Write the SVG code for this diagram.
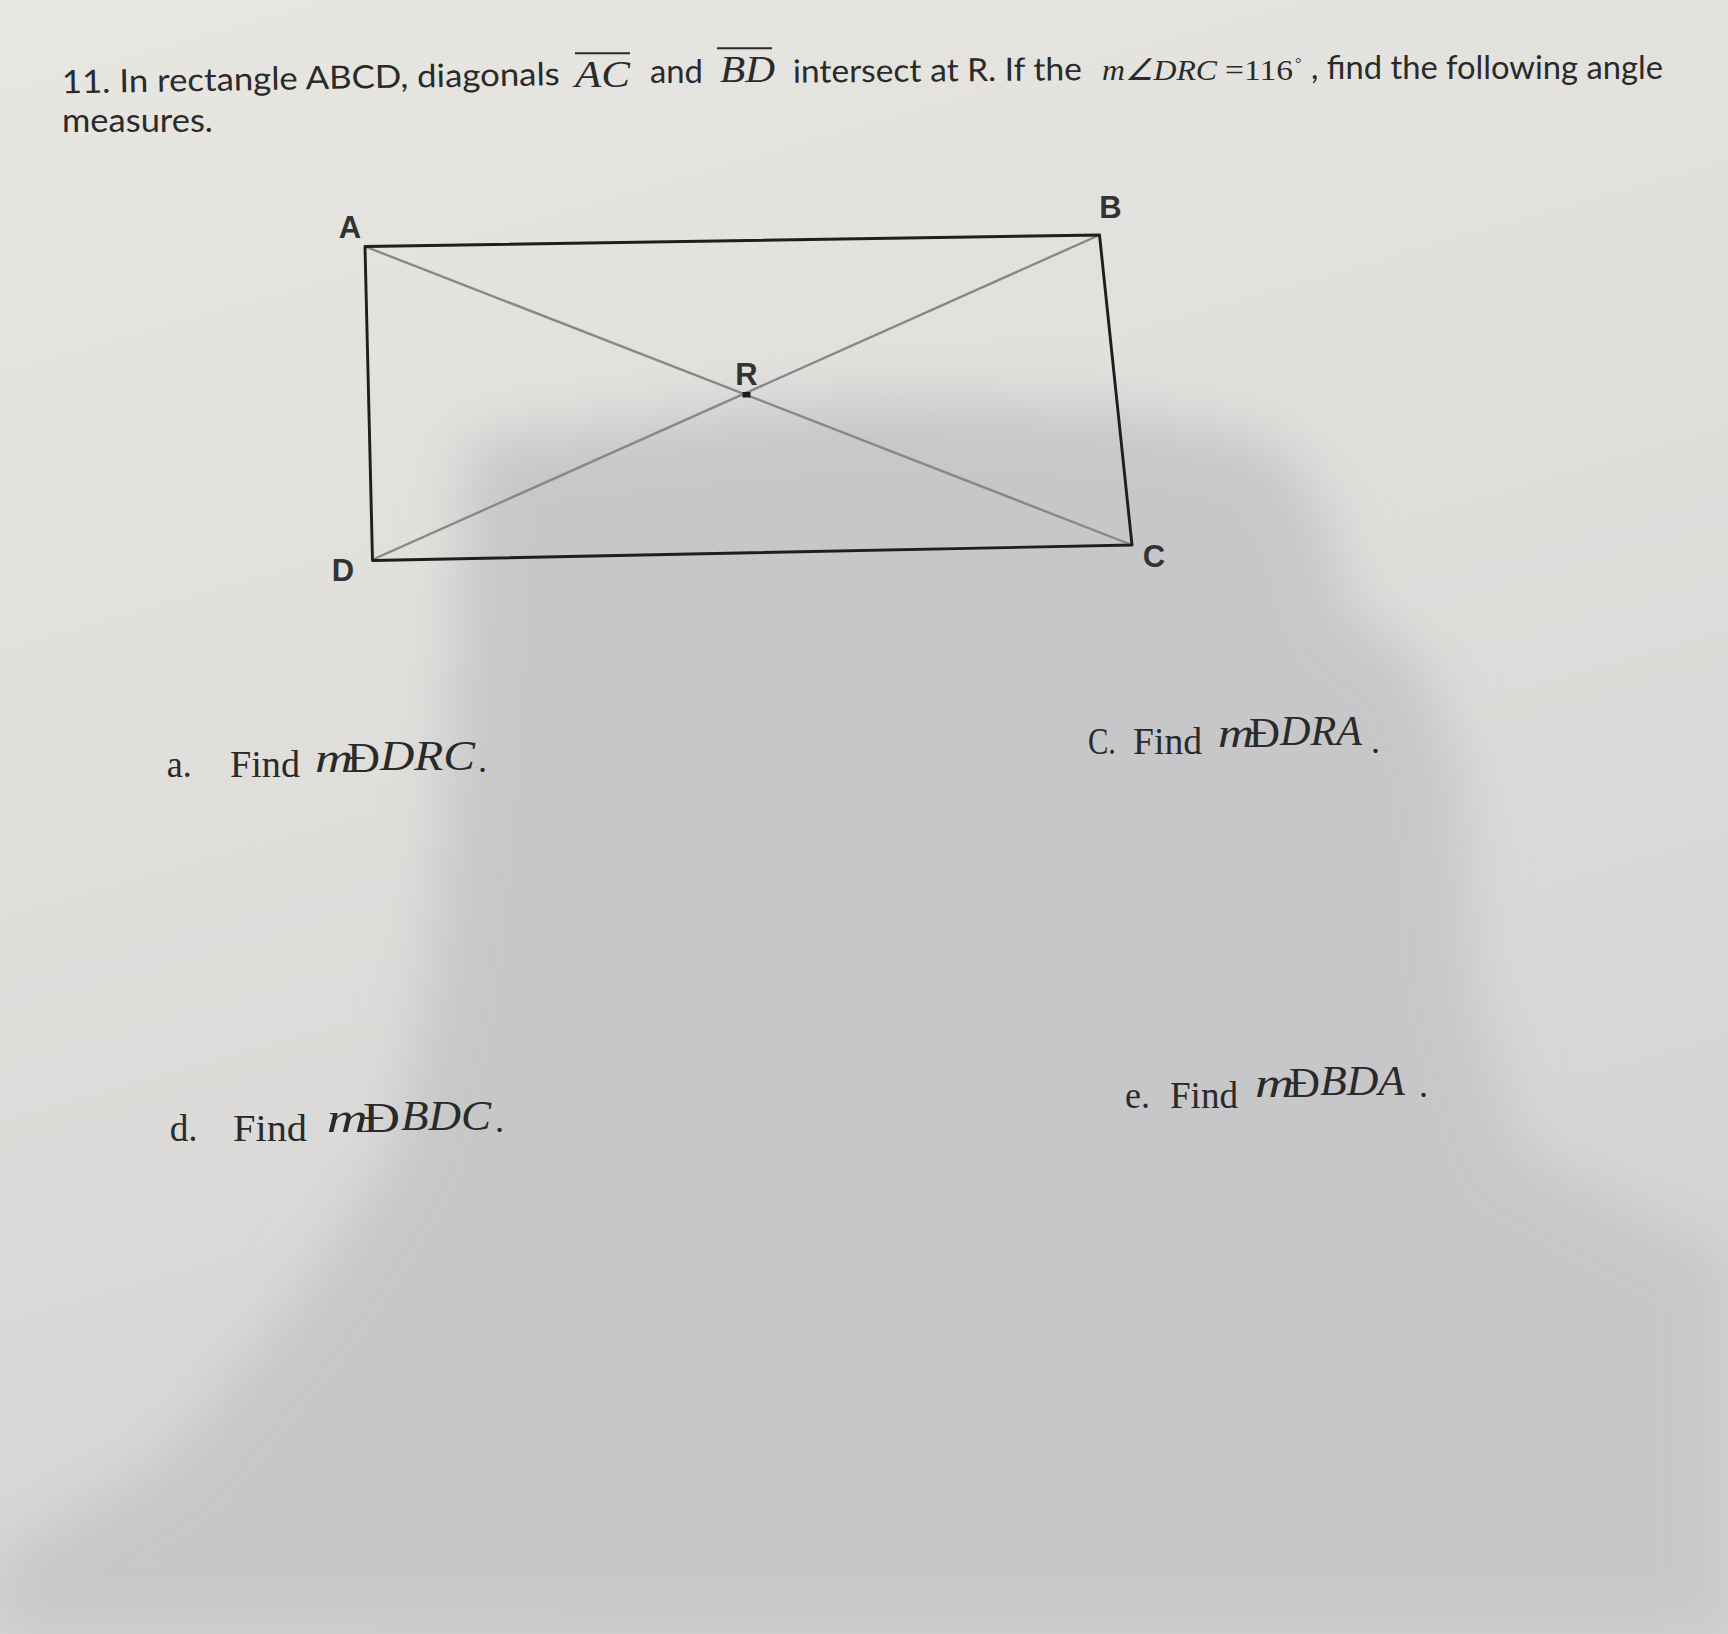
<svg xmlns="http://www.w3.org/2000/svg" width="1728" height="1634" viewBox="0 0 1728 1634">
<style>
.q{font-family:Lato,"Liberation Sans",sans-serif;font-size:32px;fill:#2a2a2a}
.mi{font-family:"Liberation Serif",serif;font-style:italic;fill:#2a2a2a}
.mu{font-family:"Liberation Serif",serif;fill:#2a2a2a}
.it{font-family:"Liberation Serif",serif;font-size:37px;fill:#2a2a2a}
.lbl{font-family:"Liberation Sans",Arial,sans-serif;font-weight:bold;font-size:31px;fill:#333;text-anchor:middle}
.side{stroke:#1e1e1e;stroke-width:2.9;fill:none;stroke-linejoin:round}
.diag{stroke:#888;stroke-width:2.4;fill:none}
.ovl{stroke:#2a2a2a;stroke-width:2}
</style>
<defs>
<linearGradient id="paper" x1="0" y1="0" x2="0.3" y2="1">
<stop offset="0" stop-color="#e8e6e1"/>
<stop offset="0.5" stop-color="#dfdedb"/>
<stop offset="1" stop-color="#d3d3d3"/>
</linearGradient>
<filter id="blur" x="-20%" y="-20%" width="140%" height="140%">
<feGaussianBlur stdDeviation="28"/>
</filter>
</defs>
<rect x="0" y="0" width="1728" height="1634" fill="url(#paper)"/>
<path d="M470,440 L660,418 L880,398 L1100,408 L1268,438 L1322,500 L1350,610 L1420,660 L1462,770 L1475,990 L1520,1150 L1728,1260 L1728,1634 L0,1634 L0,1560 L165,1460 L305,1290 L395,1150 L428,990 L448,780 L458,600 Z" fill="#c7c7c9" filter="url(#blur)"/>

<g id="question">
<text class="q" x="62" y="93.3" textLength="498" lengthAdjust="spacingAndGlyphs" transform="rotate(-0.95 62 93.3)">11. In rectangle ABCD, diagonals</text>
<text class="mi" x="575" y="86.7" font-size="38" textLength="55" lengthAdjust="spacingAndGlyphs">AC</text>
<line class="ovl" x1="575" y1="53.3" x2="630" y2="53.3"/>
<text class="q" x="650" y="83.3" textLength="53" lengthAdjust="spacingAndGlyphs">and</text>
<text class="mi" x="720" y="81.7" font-size="38" textLength="55" lengthAdjust="spacingAndGlyphs">BD</text>
<line class="ovl" x1="717" y1="48.3" x2="772" y2="48.3"/>
<text class="q" x="793" y="82.7" textLength="289" lengthAdjust="spacingAndGlyphs" transform="rotate(-0.5 793 82.7)">intersect at R.  If the</text>
<text class="mi" x="1102" y="80" font-size="30" textLength="115" lengthAdjust="spacingAndGlyphs">m∠DRC</text>
<text class="mu" x="1225" y="80" font-size="30" textLength="68" lengthAdjust="spacingAndGlyphs">=116</text>
<text class="mu" x="1295" y="69" font-size="16">°</text>
<text class="q" x="1311" y="79.3" textLength="352" lengthAdjust="spacingAndGlyphs">, find the following angle</text>
<text class="q" x="62" y="131.7" textLength="151" lengthAdjust="spacingAndGlyphs">measures.</text>
</g>

<g id="connectors">
<line class="diag" x1="365" y1="246.5" x2="1132" y2="545"/>
<line class="diag" x1="1099.5" y1="235" x2="374" y2="559"/>
<polygon class="side" points="365,246.5 1099.5,235 1132,545 372.5,560.5"/>
</g>

<g id="node-A"><text class="lbl" x="350" y="238">A</text></g>
<g id="node-B"><text class="lbl" x="1110.5" y="218">B</text></g>
<g id="node-C"><text class="lbl" x="1154" y="567">C</text></g>
<g id="node-D"><text class="lbl" x="343" y="581">D</text></g>
<g id="node-R"><text class="lbl" x="746.5" y="385">R</text><rect x="742.5" y="392" width="8" height="5.5" fill="#1e1e1e"/></g>

<g id="item-a">
<text class="it" x="166.7" y="777" textLength="25" lengthAdjust="spacingAndGlyphs">a.</text>
<text class="it" x="230" y="777" textLength="70" lengthAdjust="spacingAndGlyphs">Find</text>
<text class="mi" x="315" y="772" font-size="42" textLength="38" lengthAdjust="spacingAndGlyphs">m</text>
<text class="mu" x="347" y="772" font-size="42" textLength="33" lengthAdjust="spacingAndGlyphs">Ð</text>
<text class="mi" x="380" y="770" font-size="42" textLength="95" lengthAdjust="spacingAndGlyphs">DRC</text>
<text class="mu" x="478" y="772" font-size="36">.</text>
</g>

<g id="item-c">
<text class="it" x="1088" y="754" textLength="28" lengthAdjust="spacingAndGlyphs">C.</text>
<text class="it" x="1133" y="754" textLength="69" lengthAdjust="spacingAndGlyphs">Find</text>
<text class="mi" x="1218" y="747" font-size="42" textLength="36" lengthAdjust="spacingAndGlyphs">m</text>
<text class="mu" x="1249" y="747" font-size="42" textLength="31" lengthAdjust="spacingAndGlyphs">Ð</text>
<text class="mi" x="1280" y="745" font-size="42" textLength="82" lengthAdjust="spacingAndGlyphs">DRA</text>
<text class="mu" x="1371" y="753" font-size="36">.</text>
</g>

<g id="item-d">
<text class="it" x="169.7" y="1141" textLength="28" lengthAdjust="spacingAndGlyphs">d.</text>
<text class="it" x="233" y="1141" textLength="74" lengthAdjust="spacingAndGlyphs">Find</text>
<text class="mi" x="326.7" y="1132" font-size="43" textLength="41" lengthAdjust="spacingAndGlyphs">m</text>
<text class="mu" x="363" y="1132" font-size="43" textLength="37" lengthAdjust="spacingAndGlyphs">Ð</text>
<text class="mi" x="401" y="1130" font-size="43" textLength="90" lengthAdjust="spacingAndGlyphs">BDC</text>
<text class="mu" x="495" y="1132" font-size="36">.</text>
</g>

<g id="item-e">
<text class="it" x="1125" y="1108" textLength="25" lengthAdjust="spacingAndGlyphs">e.</text>
<text class="it" x="1170" y="1108" textLength="68" lengthAdjust="spacingAndGlyphs">Find</text>
<text class="mi" x="1255" y="1097" font-size="42" textLength="39" lengthAdjust="spacingAndGlyphs">m</text>
<text class="mu" x="1289" y="1097" font-size="42" textLength="31" lengthAdjust="spacingAndGlyphs">Ð</text>
<text class="mi" x="1320" y="1095" font-size="42" textLength="85" lengthAdjust="spacingAndGlyphs">BDA</text>
<text class="mu" x="1419" y="1097" font-size="36">.</text>
</g>
</svg>
